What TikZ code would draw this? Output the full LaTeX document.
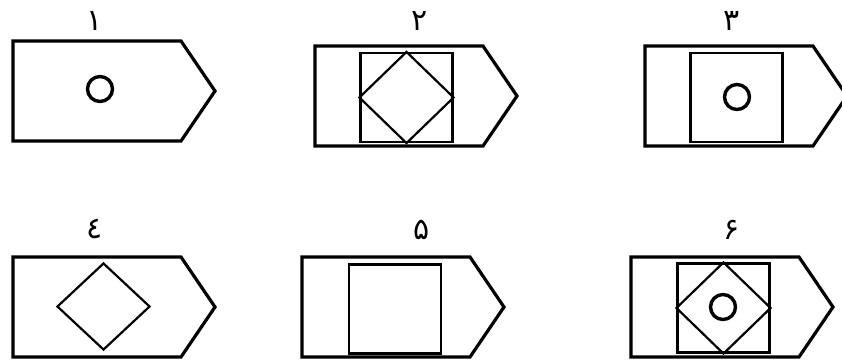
\documentclass[tikz,border=0pt]{standalone}
\usepackage{fontspec}
\newfontfamily\arabicfont[Script=Arabic]{DejaVu Sans}
\usetikzlibrary{shapes.geometric}
\tikzset{
  plate/.style={line width=3.2pt,line join=miter},
  box/.style={rectangle,draw,line width=2.2pt,minimum width=92pt,minimum height=89pt,inner sep=0pt},
  rhomb/.style={line width=2.2pt,line join=miter},
  ring/.style={circle,draw,line width=3.4pt,minimum size=25pt,inner sep=0pt},
  digit/.style={font=\arabicfont\fontsize{30}{30}\selectfont,inner sep=0pt}
}
% arrow plate from its top left corner
\newcommand{\plate}[2]{%
  \draw[plate] (#1,#2) -- ++(168,0) -- ++(34,50) -- ++(-34,50) -- ++(-168,0) -- cycle;}

\begin{document}
\begin{tikzpicture}[x=1pt,y=-1pt]
  \useasboundingbox (0,0) rectangle (842,362);
  % top row
  \plate{13}{41}
  \plate{315}{46}
  \plate{645}{46}
  \node[digit] (numA) at (95,21) {۱};
  \node[digit] (numB) at (420,21) {۲};
  \node[digit] (numC) at (732,21) {۳};
  \node[ring] (dotA) at (100,89) {};
  \node[box] (sqB) at (406.5,97.5) {};
  \draw[rhomb] (sqB.north) -- (sqB.east) -- (sqB.south) -- (sqB.west) -- cycle;
  \node[box] (sqC) at (736.5,97.5) {};
  \node[ring] (dotC) at (737,97) {};
  % bottom row
  \plate{13}{257}
  \plate{302}{257}
  \plate{631}{257}
  \node[digit] (numD) at (95,229) {٤};
  \node[digit] (numE) at (422,230) {۵};
  \node[digit] (numF) at (732,230) {۶};
  \node[diamond,draw,line width=2.2pt,inner sep=0pt,minimum width=93pt,minimum height=87pt] (rhD) at (103.5,306.5) {};
  \node[box] (sqE) at (395,309) {};
  \node[box] (sqF) at (723.5,308) {};
  \draw[rhomb] (sqF.north) -- (sqF.east) -- (sqF.south) -- (sqF.west) -- cycle;
  \node[ring] (dotF) at (723,307) {};
\end{tikzpicture}
\end{document}
